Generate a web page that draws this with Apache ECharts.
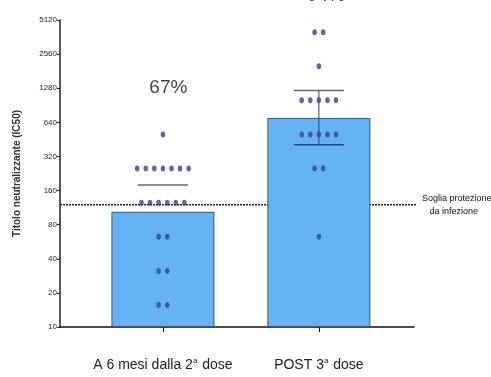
<!DOCTYPE html>
<html>
<head>
<meta charset="utf-8">
<script src="https://cdn.jsdelivr.net/npm/echarts@6/dist/echarts.min.js"></script>
<style>
  html, body { margin: 0; padding: 0; background: #fff; }
  #chart { width: 491px; height: 377px; }
</style>
</head>
<body>
<div id="chart"></div>
<script>
// Groups and their neutralising titres (IC50)
const groups = ['A 6 mesi dalla 2ª dose', 'POST 3ª dose'];
const barValues = [104, 700];            // geometric mean titre per group
const errHigh = [179, 1220];
const errLow = [null, 405];
const percentLabels = ['67%', '94%'];
const threshold = 120;                   // protection threshold titre
const yTicks = [10, 20, 40, 80, 160, 320, 640, 1280, 2560, 5120];

// individual titres per group: [value, count]
const pointsA = [[15.6, 2], [31.25, 2], [62.5, 2], [125, 6], [250, 7], [500, 1]];
const pointsB = [[62.5, 1], [250, 2], [500, 5], [1000, 5], [2000, 1], [4000, 2]];

const FONT = '"Liberation Sans Narrow", "Liberation Sans", Arial, sans-serif';
const BASE = 10;
// doubling-dilution scale: position = log2(titre / 10)
const tr = v => Math.log2(v / BASE);

// spread identical titres side by side around the group centre
function swarm(groupIndex, list) {
  const out = [];
  const step = 0.055;
  list.forEach(([v, n]) => {
    for (let i = 0; i < n; i++) {
      out.push([groupIndex + (i - (n - 1) / 2) * step, tr(v)]);
    }
  });
  return out;
}

const chart = echarts.init(document.getElementById('chart'));

const xMin = -0.66, xMax = 1.61;

chart.setOption({
  animation: false,
  grid: { left: 60, right: 77, top: 20, bottom: 50 },
  xAxis: {
    type: 'value',
    min: xMin,
    max: xMax,
    splitLine: { show: false },
    axisLine: { show: true, onZero: false, lineStyle: { color: '#111', width: 1.5 } },
    axisTick: { show: true, customValues: [0, 1], length: 5, lineStyle: { color: '#111', width: 1 } },
    axisLabel: {
      customValues: [0, 1],
      margin: 30,
      fontFamily: FONT,
      fontSize: 14,
      color: '#222',
      formatter: v => {
        const name = groups[Math.round(v)];
        const parts = name.split('ª');
        return parts[0] + '{sup|a}' + parts[1];
      },
      rich: {
        sup: { fontSize: 8, fontFamily: FONT, color: '#222', verticalAlign: 'top', padding: [0, 1, 8, 0] }
      }
    }
  },
  yAxis: {
    type: 'value',
    min: 0,
    max: tr(yTicks[yTicks.length - 1]),
    interval: 1,
    name: 'Titolo neutralizzante (IC50)',
    nameLocation: 'middle',
    nameGap: 38,
    nameTextStyle: { fontFamily: 'Liberation Sans, Arial, sans-serif', fontWeight: 'bold', fontSize: 10, color: '#333' },
    splitLine: { show: false },
    axisLine: { show: true, onZero: false, lineStyle: { color: '#222', width: 1.5 } },
    axisTick: { show: true, length: 3, lineStyle: { color: '#222' } },
    axisLabel: {
      margin: 3,
      fontFamily: FONT,
      fontSize: 8,
      color: '#222',
      formatter: v => String(Math.round(BASE * Math.pow(2, v)))
    }
  },
  series: [
    {
      // protection threshold (drawn behind the bars)
      type: 'line',
      z: 1,
      silent: true,
      clip: false,
      symbol: 'none',
      lineStyle: { color: '#222', type: [2, 1], width: 1.5 },
      data: [[xMin, tr(threshold)], [1.665, tr(threshold)]],
      endLabel: {
        show: true,
        distance: 6,
        fontFamily: FONT,
        fontSize: 9,
        lineHeight: 13,
        align: 'left',
        color: '#111',
        formatter: 'Soglia protezione\n   da infezione'
      }
    },
    {
      type: 'bar',
      barWidth: 103,
      data: barValues.map((v, i) => [i, tr(v)]),
      itemStyle: { color: '#66b3f4', borderColor: '#3b5670', borderWidth: 1 },
      z: 2
    },
    {
      // error bars
      type: 'custom',
      z: 3,
      clip: false,
      data: barValues.map((v, i) => [i, errLow[i] == null ? NaN : tr(errLow[i]), tr(errHigh[i])]),
      renderItem: (params, api) => {
        const x = api.value(0);
        const hi = api.coord([x, api.value(2)]);
        const capHalf = 25;
        const children = [{
          type: 'line',
          shape: { x1: hi[0] - capHalf, y1: hi[1], x2: hi[0] + capHalf, y2: hi[1] },
          style: { stroke: '#666', lineWidth: 1.5 }
        }];
        const lowV = api.value(1);
        if (!isNaN(lowV)) {
          const lo = api.coord([x, lowV]);
          children.push({
            type: 'line',
            shape: { x1: lo[0] - capHalf, y1: lo[1], x2: lo[0] + capHalf, y2: lo[1] },
            style: { stroke: '#2e3f7a', lineWidth: 1.5 }
          });
          children.push({
            type: 'line',
            shape: { x1: hi[0], y1: hi[1], x2: lo[0], y2: lo[1] },
            style: { stroke: '#2e3f7a', lineWidth: 1 }
          });
        }
        return { type: 'group', children };
      }
    },
    {
      type: 'scatter',
      z: 4,
      symbol: 'circle',
      symbolSize: [4.5, 6],
      itemStyle: { color: '#3a3f92' },
      data: swarm(0, pointsA).concat(swarm(1, pointsB))
    },
    {
      // percentage above the protection threshold
      type: 'scatter',
      z: 5,
      clip: false,
      symbolSize: 0,
      silent: true,
      label: {
        show: true,
        position: 'inside',
        fontFamily: FONT,
        fontSize: 19,
        color: '#111',
        formatter: p => percentLabels[p.dataIndex]
      },
      data: [[0.035, 7.0], [1.045, 9.72]]
    }
  ]
});
</script>
</body>
</html>
